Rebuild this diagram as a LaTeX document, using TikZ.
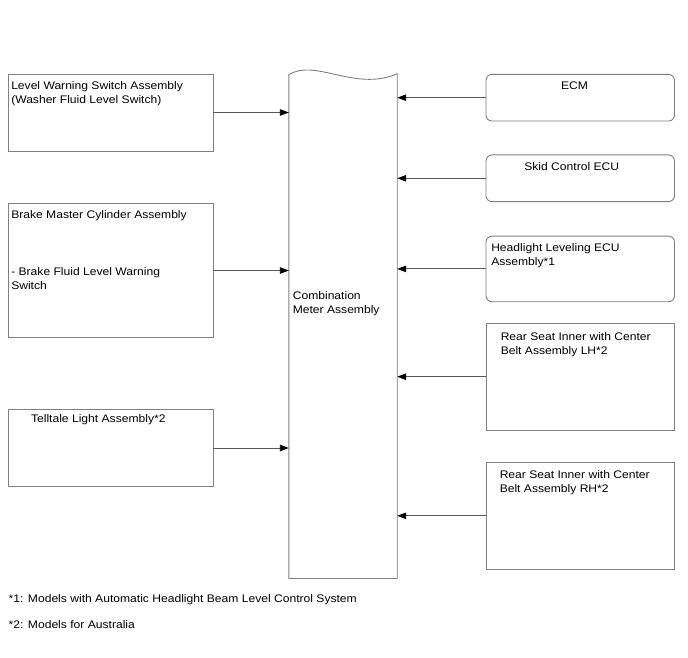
\documentclass[tikz,border=0pt]{standalone}
\usepackage{fontspec}
\setmainfont{Liberation Sans}[FakeStretch=1.1]
\usetikzlibrary{arrows.meta,positioning}

\tikzset{
	part/.style={draw=black!50, line width=0.9pt, rectangle, inner sep=0pt},
	ecu/.style={part, rounded corners=6pt},
	tag/.style={font=\fontsize{11}{14}\selectfont, align=left, inner sep=0pt},
	signal/.style={draw=black!65, line width=0.9pt, -{Triangle[length=9pt,width=6.5pt,color=black]}}
}

\begin{document}
\begin{tikzpicture}[x=1pt,y=-1pt]
	\useasboundingbox (0,0) rectangle (688,658);
	
	% left column
	\node[part, minimum width=204.5pt, minimum height=77pt] (lws) at (110.75,112.5) {};
	\node[part, minimum width=204.5pt, minimum height=134.4pt] (bmc) at (110.75,270.5) {};
	\node[part, minimum width=204.5pt, minimum height=77.4pt] (tla) at (110.75,448) {};
	\node[tag, below right=7.5pt and 3pt of lws.north west] {Level Warning Switch Assembly\\(Washer Fluid Level Switch)};
	\node[tag, below right=7.2pt and 3pt of bmc.north west] {Brake Master Cylinder Assembly\\[43pt]- Brake Fluid Level Warning\\Switch};
	\node[tag, below right=5.7pt and 22.8pt of tla.north west] {Telltale Light Assembly*2};
	
	% meter
	\node[inner sep=0pt, minimum width=108pt, minimum height=503.3pt] (cma) at (343,326.65) {};
	\draw[draw=black!50, line width=0.9pt] (cma.south west) -- (cma.north west)
		.. controls (315,58) and (355,92) .. ([yshift=1pt]cma.north east) -- (cma.south east) -- cycle;
	\node[tag, below right=216.5pt and 3.8pt of cma.north west] {Combination\\Meter Assembly};
	
	% right column
	\node[ecu, minimum width=188.5pt, minimum height=46.7pt] (ecm) at (580.25,97.7) {};
	\node[ecu, minimum width=188.5pt, minimum height=46.7pt] (scu) at (580.25,178.3) {};
	\node[ecu, minimum width=188.5pt, minimum height=65.7pt] (hlv) at (580.25,268.9) {};
	\node[part, minimum width=188.5pt, minimum height=106.7pt] (rlh) at (580.25,376.7) {};
	\node[part, minimum width=188.5pt, minimum height=106.3pt] (rrh) at (580.25,515.8) {};
	\node[tag, below=8.2pt of ecm.north, xshift=-5.75pt] {ECM};
	\node[tag, below=7.5pt of scu.north, xshift=-8.5pt] {Skid Control ECU};
	\node[tag, below right=8pt and 5.5pt of hlv.north west] {Headlight Leveling ECU\\Assembly*1};
	\node[tag, below right=9.2pt and 15pt of rlh.north west] {Rear Seat Inner with Center\\Belt Assembly LH*2};
	\node[tag, below right=8.3pt and 14pt of rrh.north west] {Rear Seat Inner with Center\\Belt Assembly RH*2};
	
	% signals
	\foreach \src in {lws,bmc,tla}
		\draw[signal] (\src.east) -- (\src.east -| cma.west);
	\foreach \src in {ecm,scu,hlv,rlh,rrh}
		\draw[signal] (\src.west) -- (\src.west -| cma.east);
	
	% notes
	\node[tag, anchor=north west] (fn1) at (8.5,594) {*1: Models with Automatic Headlight Beam Level Control System};
	\node[tag, anchor=north west] (fn2) at (8.5,620) {*2: Models for Australia};
\end{tikzpicture}
\end{document}
